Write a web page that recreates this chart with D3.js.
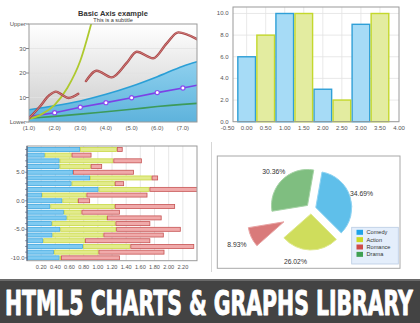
<!DOCTYPE html>
<html><head><meta charset="utf-8">
<script src="https://cdn.jsdelivr.net/npm/d3@7"></script>
<style>body{margin:0;background:#fff;overflow:hidden} svg{display:block;font-family:"Liberation Sans",Arial,sans-serif}</style>
</head><body><svg id="c" width="420" height="323"></svg>
<script>
// ---------- Panel 1: Basic Axis example ----------
const p1Title = "Basic Axis example";
const p1Subtitle = "This is a subtitle";
const p1XTicks = [1, 2, 3, 4, 5, 6, 7];
const p1XTickLabels = ["(1.0)", "(2.0)", "(3.0)", "(4.0)", "(5.0)", "(6.0)", "(7.0)"];
const p1YTicks = [0, 10, 20, 30, 40];
const p1YTickLabels = ["Lower", "10", "20", "30", "Upper"];
const p1X = [1, 2, 3, 4, 5, 6, 7, 7.55];
const p1Area = [5, 6.6, 8.6, 11.3, 14.6, 18.5, 22.8, 24.6];
const p1Purple = [2.2, 3.8, 6.0, 7.9, 9.9, 12.0, 13.9, 15.0];
const p1Green = [1.5, 2.3, 3.2, 4.2, 5.2, 6.3, 7.2, 7.6];
const p1MarkerX = [2, 3, 4, 5, 6, 7];
const p1MarkerY = [3.8, 6.0, 7.9, 9.9, 12.0, 13.9];
const p1CurveX = [1, 1.5, 2, 2.5, 3, 3.5];
const p1CurveY = [1.2, 3.2, 7, 14, 25, 43];
const p1WaveAX = [1, 1.4, 1.8, 2.05, 2.3, 2.55, 2.92];
const p1WaveAY = [1.5, 6, 11, 12.4, 11, 9.8, 11.5];
const p1WaveBX = [3.22, 3.64, 4.22, 4.8, 5.2, 5.84, 6.36, 6.82, 7.55];
const p1WaveBY = [16.7, 20.9, 18.2, 24, 28.7, 26, 32, 36.6, 33.8];

// ---------- Panel 2: bar chart ----------
const p2XTicks = [-0.5, 0, 0.5, 1, 1.5, 2, 2.5, 3, 3.5, 4];
const p2YTicks = [0, 2, 4, 6, 8, 10];
const p2BlueX = [0, 1, 2, 3];
const p2BlueY = [6, 10, 3, 9];
const p2YellowX = [0.5, 1.5, 2.5, 3.5];
const p2YellowY = [8, 10, 2, 10];

// ---------- Panel 3: stacked horizontal bars ----------
const p3Rows = [9, 8, 7, 6, 5, 4, 3, 2, 1, 0, -1, -2, -3, -4, -5, -6, -7, -8, -9, -10];
const p3Blue = [0.75, 0.25, 0.46, 0.46, 0.65, 0.89, 0.63, 1.01, 0.21, 0.50, 0.33, 0.52, 0.56, 0.35, 0.47, 0.36, 0.23, 0.79, 0.38, 0.46];
const p3Yellow = [0.52, 0.38, 0.76, 0.44, 0.00, 0.87, 0.61, 0.72, 0.63, 0.22, 0.91, 0.25, 0.57, 0.90, 0.79, 0.72, 0.59, 0.67, 0.63, 0.02];
const p3Red = [0.08, 0.28, 0.40, 0.16, 0.86, 0.09, 0.13, 0.75, 0.86, 0.17, 0.85, 0.54, 0.77, 0.49, 0.91, 0.85, 0.92, 0.90, 0.93, 0.83];
const p3XTicks = [0.2, 0.4, 0.6, 0.8, 1.0, 1.2, 1.4, 1.6, 1.8, 2.0, 2.2];
const p3YTicks = [5, 0, -5, -10];

// ---------- Panel 4: pie ----------
const p4Names = ["Comedy", "Action", "Romance", "Drama"];
const p4Values = [34.69, 26.02, 8.93, 30.36];

const bannerText = "HTML5 CHARTS & GRAPHS LIBRARY";

const svg = d3.select("#c");
const defs = svg.append("defs");

// ===== Panel 1 =====
{
  const L = 29, R = 197, T = 24, B = 122;
  const x = d3.scaleLinear().domain([1, 7.55]).range([L, R]);
  const y = d3.scaleLinear().domain([0, 40]).range([B, T]);
  const g = svg.append("g");
  const bg = defs.append("linearGradient").attr("id", "p1bg").attr("x1", 0).attr("y1", 0).attr("x2", 0).attr("y2", 1);
  bg.append("stop").attr("offset", "0").attr("stop-color", "#ffffff");
  bg.append("stop").attr("offset", "1").attr("stop-color", "#cbcbcb");
  const ag = defs.append("linearGradient").attr("id", "p1area").attr("x1", 0).attr("y1", 0).attr("x2", 0).attr("y2", 1);
  ag.append("stop").attr("offset", "0").attr("stop-color", "#8ed0ee");
  ag.append("stop").attr("offset", "1").attr("stop-color", "#5eb3dc");
  defs.append("clipPath").attr("id", "p1clip").append("rect").attr("x", L).attr("y", T).attr("width", R - L).attr("height", B - T);

  g.append("rect").attr("x", L).attr("y", T).attr("width", R - L).attr("height", B - T).attr("fill", "url(#p1bg)");
  g.selectAll("line.grid").data([10, 20, 30]).join("line")
    .attr("x1", L).attr("x2", R).attr("y1", d => y(d)).attr("y2", d => y(d))
    .attr("stroke", "#e2e2e2").attr("stroke-width", 0.8);

  const pc = g.append("g").attr("clip-path", "url(#p1clip)");
  const pts = (xs, ys) => xs.map((v, i) => [v, ys[i]]);
  pc.append("path").datum(pts(p1X, p1Area))
    .attr("d", d3.area().x(d => x(d[0])).y0(y(0)).y1(d => y(d[1])).curve(d3.curveMonotoneX))
    .attr("fill", "url(#p1area)");
  pc.append("path").datum(pts(p1X, p1Area))
    .attr("d", d3.line().x(d => x(d[0])).y(d => y(d[1])).curve(d3.curveMonotoneX))
    .attr("fill", "none").attr("stroke", "#2a9fd6").attr("stroke-width", 1.6);
  pc.append("path").datum(pts(p1X, p1Green))
    .attr("d", d3.line().x(d => x(d[0])).y(d => y(d[1])).curve(d3.curveMonotoneX))
    .attr("fill", "none").attr("stroke", "#3d9a5a").attr("stroke-width", 1.6);
  pc.append("path").datum(pts(p1X, p1Purple))
    .attr("d", d3.line().x(d => x(d[0])).y(d => y(d[1])))
    .attr("fill", "none").attr("stroke", "#7b42e6").attr("stroke-width", 1.6);
  pc.selectAll("circle.m").data(pts(p1MarkerX, p1MarkerY)).join("circle")
    .attr("cx", d => x(d[0])).attr("cy", d => y(d[1])).attr("r", 2.1)
    .attr("fill", "#fff").attr("stroke", "#8a4cf0").attr("stroke-width", 1.2);
  pc.append("path").datum(pts(p1CurveX, p1CurveY))
    .attr("d", d3.line().x(d => x(d[0])).y(d => y(d[1])).curve(d3.curveMonotoneX))
    .attr("fill", "none").attr("stroke", "#aec92e").attr("stroke-width", 1.8);
  const wave = d3.line().x(d => x(d[0])).y(d => y(d[1])).curve(d3.curveMonotoneX);
  [pts(p1WaveAX, p1WaveAY), pts(p1WaveBX, p1WaveBY)].forEach(seg => {
    pc.append("path").datum(seg).attr("d", wave).attr("fill", "none").attr("stroke", "#a84646").attr("stroke-width", 2.4).attr("stroke-linecap", "round");
    pc.append("path").datum(seg).attr("d", wave).attr("fill", "none").attr("stroke", "#d98a8a").attr("stroke-width", 0.8).attr("stroke-linecap", "round");
  });

  g.append("rect").attr("x", L).attr("y", T).attr("width", R - L).attr("height", B - T)
    .attr("fill", "none").attr("stroke", "#9a9a9a").attr("stroke-width", 1);
  g.selectAll("line.yt").data(p1YTicks).join("line")
    .attr("x1", L - 3).attr("x2", L).attr("y1", d => y(d)).attr("y2", d => y(d)).attr("stroke", "#888");
  g.selectAll("text.yl").data(p1YTicks).join("text")
    .attr("x", L - 3).attr("y", d => y(d) + 2).attr("text-anchor", "end")
    .attr("font-size", 6).attr("fill", "#555").text((d, i) => p1YTickLabels[i]);
  g.selectAll("text.xl").data(p1XTicks).join("text")
    .attr("x", d => x(d)).attr("y", 130).attr("text-anchor", "middle")
    .attr("font-size", 6).attr("fill", "#555").text((d, i) => p1XTickLabels[i]);
  g.append("text").attr("x", 113).attr("y", 15.5).attr("text-anchor", "middle")
    .attr("font-size", 7.5).attr("font-weight", "bold").attr("fill", "#333").text(p1Title);
  g.append("text").attr("x", 113).attr("y", 22).attr("text-anchor", "middle")
    .attr("font-size", 5.5).attr("fill", "#333").text(p1Subtitle);
}

// ===== Panel 2 =====
{
  const L = 233, R = 399, T = 7, B = 121.7;
  const x = d3.scaleLinear().domain([-0.5, 4]).range([227.6, 399]);
  const y = d3.scaleLinear().domain([0, 10.6]).range([B, T]);
  const g = svg.append("g");
  g.selectAll("line.vg").data(p2XTicks.filter(d => x(d) > L && x(d) < R)).join("line")
    .attr("x1", d => x(d)).attr("x2", d => x(d)).attr("y1", T).attr("y2", B).attr("stroke", "#e3e3e3").attr("stroke-width", 0.8);
  g.selectAll("line.hg").data(p2YTicks).join("line")
    .attr("x1", L).attr("x2", R).attr("y1", d => y(d)).attr("y2", d => y(d)).attr("stroke", "#e3e3e3").attr("stroke-width", 0.8);
  const w = x(0.5) - x(0);
  const bars = (xs, ys, fill, stroke) => g.selectAll(null).data(xs.map((v, i) => [v, ys[i]])).join("rect")
    .attr("x", d => x(d[0]) - w / 2 + 0.7).attr("width", w - 1.4)
    .attr("y", d => y(d[1])).attr("height", d => y(0) - y(d[1]))
    .attr("fill", fill).attr("stroke", stroke).attr("stroke-width", 1.4);
  bars(p2BlueX, p2BlueY, "#a6dbf6", "#2f9fd7");
  bars(p2YellowX, p2YellowY, "#e3eca0", "#c4d82c");
  g.append("rect").attr("x", L).attr("y", T).attr("width", R - L).attr("height", B - T)
    .attr("fill", "none").attr("stroke", "#9a9a9a");
  g.selectAll("text.yl").data(p2YTicks).join("text")
    .attr("x", 228.5).attr("y", d => y(d) + 2).attr("text-anchor", "end")
    .attr("font-size", 6).attr("fill", "#555").text(d => d.toFixed(1));
  g.selectAll("text.xl").data(p2XTicks).join("text")
    .attr("x", d => x(d)).attr("y", 129.5).attr("text-anchor", "middle")
    .attr("font-size", 6).attr("fill", "#555").text(d => d.toFixed(2));
}

// ===== Panel 3 =====
{
  const L = 27, R = 197, T = 146, B = 260.7;
  const x = d3.scaleLinear().domain([0, 2.4]).range([L, R]);
  const y = d3.scaleLinear().domain([-10.5, 9.6]).range([B, T]);
  const g = svg.append("g");
  defs.append("clipPath").attr("id", "p3clip").append("rect").attr("x", L).attr("y", T).attr("width", R - L).attr("height", B - T);
  g.append("rect").attr("x", L).attr("y", T).attr("width", R - L).attr("height", B - T).attr("fill", "#fff");
  g.selectAll("line.vg").data(p3XTicks).join("line")
    .attr("x1", d => x(d)).attr("x2", d => x(d)).attr("y1", T).attr("y2", B).attr("stroke", "#e2e2e2").attr("stroke-width", 0.8);
  const table = p3Rows.map((r, i) => ({ row: r, blue: p3Blue[i], yellow: p3Yellow[i], red: p3Red[i] }));
  const stack = d3.stack().keys(["blue", "yellow", "red"])(table);
  const fills = { blue: "#7fcaf1", yellow: "#e2eb8c", red: "#f0aaaa" };
  const strokes = { blue: "#3ea6df", yellow: "#c9d944", red: "#c65454" };
  const bh = 4;
  const pc = g.append("g").attr("clip-path", "url(#p3clip)");
  stack.forEach(layer => {
    pc.selectAll(null).data(layer.filter(d => d[1] - d[0] > 0)).join("rect")
      .attr("x", d => x(d[0]) + 0.4).attr("width", d => Math.max(0, x(d[1]) - x(d[0]) - 0.8))
      .attr("y", d => y(d.data.row) - bh / 2).attr("height", bh)
      .attr("fill", fills[layer.key]).attr("stroke", strokes[layer.key]).attr("stroke-width", 0.8);
  });
  g.append("rect").attr("x", L).attr("y", T).attr("width", R - L).attr("height", B - T)
    .attr("fill", "none").attr("stroke", "#9a9a9a");
  g.append("line").attr("x1", L).attr("x2", L).attr("y1", T).attr("y2", B).attr("stroke", "#4a5a78").attr("stroke-width", 1);
  g.selectAll("line.yt").data(p3Rows).join("line")
    .attr("x1", L - 2).attr("x2", L).attr("y1", d => y(d)).attr("y2", d => y(d)).attr("stroke", "#4a5a78").attr("stroke-width", 0.6);
  g.selectAll("text.yl").data(p3YTicks).join("text")
    .attr("x", L - 2.5).attr("y", d => y(d) + 2).attr("text-anchor", "end")
    .attr("font-size", 6).attr("fill", "#555").text(d => d.toFixed(1));
  g.selectAll("text.xl").data(p3XTicks).join("text")
    .attr("x", d => x(d)).attr("y", 269).attr("text-anchor", "middle")
    .attr("font-size", 5.6).attr("fill", "#555").text(d => d.toFixed(2));
}

// ===== Panel 4 =====
{
  const g = svg.append("g");
  g.append("line").attr("x1", 211.5).attr("x2", 211.5).attr("y1", 142).attr("y2", 272).attr("stroke", "#d6d6d6");
  g.append("rect").attr("x", 217.3).attr("y", 156).attr("width", 182.7).attr("height", 112.3)
    .attr("fill", "#fff").attr("stroke", "#a8a8a8");
  const cx = 311, cy = 209, r = 36;
  const offset = 10 * Math.PI / 180;
  const explode = [5, 5, 30, 5];
  const sliceFill = ["#5fbfea", "#cfdd5c", "#d97a7a", "#7fbe80"];
  const sliceStroke = ["#8fd3f2", "#dfe98c", "#e8a4a4", "#a6d3a6"];
  const legendFill = ["#1ea3e9", "#c9d923", "#cf4a4a", "#3fa052"];
  const arcs = d3.pie().sort(null).startAngle(offset).endAngle(offset + 2 * Math.PI)(p4Values);
  const arc = d3.arc().innerRadius(0).outerRadius(r);
  const pg = g.append("g").attr("transform", `translate(${cx},${cy})`);
  const labelShift = [0, -14, 0, 0];
  arcs.forEach((a, i) => {
    const mid = (a.startAngle + a.endAngle) / 2;
    const dx = Math.sin(mid) * explode[i], dy = -Math.cos(mid) * explode[i];
    pg.append("path").attr("d", arc(a)).attr("transform", `translate(${dx},${dy})`)
      .attr("fill", sliceFill[i]).attr("stroke", sliceStroke[i]).attr("stroke-width", 1);
    const lr = r + 12 + explode[i] + (i === 2 ? 4 : 0);
    pg.append("text").attr("x", Math.sin(mid) * lr + labelShift[i]).attr("y", -Math.cos(mid) * lr + 2.5)
      .attr("text-anchor", "middle").attr("font-size", 6.8).attr("fill", "#333")
      .text(p4Values[i].toFixed(2) + "%");
  });
  const lg = g.append("g");
  lg.append("rect").attr("x", 351.7).attr("y", 227.3).attr("width", 46.6).attr("height", 36.7)
    .attr("fill", "#e4eefb").attr("stroke", "#b9cbe3").attr("stroke-width", 0.8);
  p4Names.forEach((n, i) => {
    const yy = 232.3 + i * 7.35;
    lg.append("rect").attr("x", 356.5).attr("y", yy - 2.5).attr("width", 6.5).attr("height", 5).attr("fill", legendFill[i]);
    lg.append("text").attr("x", 366.5).attr("y", yy + 2).attr("font-size", 5.6).attr("fill", "#333").text(n);
  });
}

// ===== Banner =====
{
  const g = svg.append("g");
  g.append("rect").attr("x", 0).attr("y", 279).attr("width", 420).attr("height", 44).attr("fill", "#434343");
  g.append("rect").attr("x", 0).attr("y", 279).attr("width", 420).attr("height", 2).attr("fill", "#6a6a6a");
  const t = g.append("text").attr("x", 0).attr("y", 0).attr("fill", "#ffffff")
    .attr("stroke", "#ffffff").attr("stroke-width", 0.9).attr("stroke-linejoin", "round")
    .attr("font-family", "'DejaVu Sans Condensed','Liberation Sans Narrow',sans-serif")
    .attr("font-weight", "bold").attr("font-size", 33)
    .text(bannerText);
  const natural = t.node().getComputedTextLength();
  t.attr("transform", `translate(5,315) scale(${408 / natural},1)`);
}
</script></body></html>
